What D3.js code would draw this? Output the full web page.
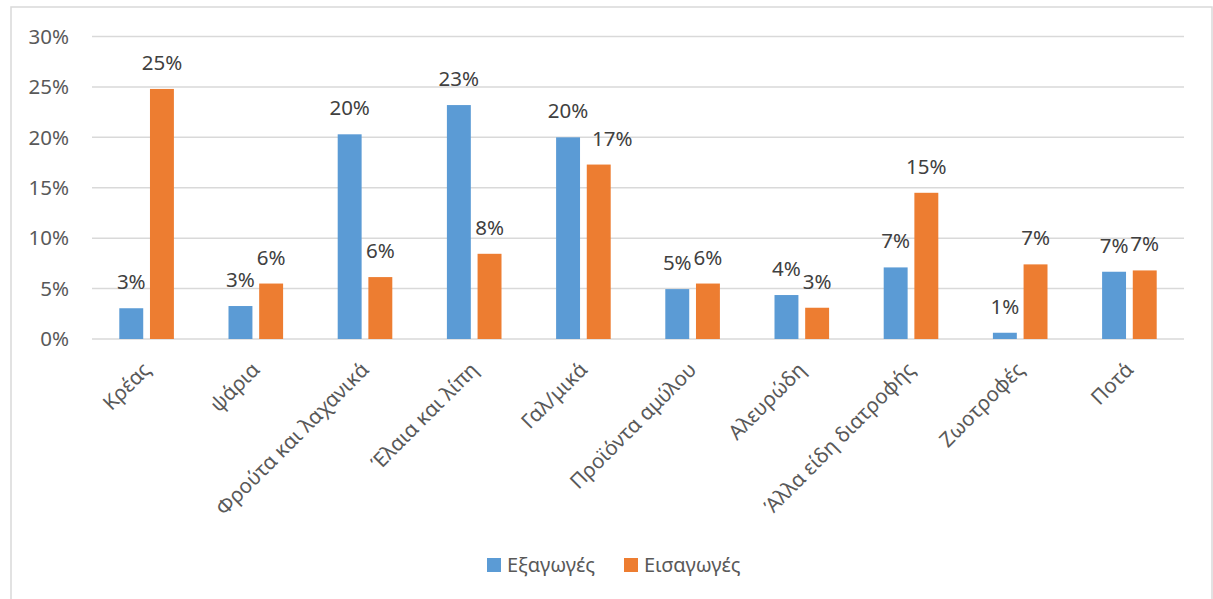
<!DOCTYPE html>
<html>
<head>
<meta charset="utf-8">
<script src="https://cdn.jsdelivr.net/npm/d3@7"></script>
<style>
  body { margin: 0; background: #fff; }
  text { font-family: "Noto Sans", "Open Sans", sans-serif; }
</style>
</head>
<body>
<svg id="chart" width="1213" height="599"></svg>
<script>
// data (share of total, %)
var categories = ["Κρέας", "ψάρια", "Φρούτα και λαχανικά", "Έλαια και λίπη", "Γαλ/μικά",
    "Προϊόντα αμύλου", "Αλευρώδη", "Άλλα είδη διατροφής", "Ζωοτροφές", "Ποτά"];
var series = ["Εξαγωγές", "Εισαγωγές"];
var exportsPct = [3.05, 3.27, 20.3, 23.2, 20.0, 4.95, 4.36, 7.1, 0.62, 6.67];
var importsPct = [24.8, 5.5, 6.14, 8.45, 17.3, 5.5, 3.1, 14.5, 7.4, 6.8];
var yTicks = [0, 5, 10, 15, 20, 25, 30];

var colors = d3.scaleOrdinal().domain(series).range(["#5B9BD5", "#ED7D31"]);

var svg = d3.select("#chart");

// chart border
svg.append("rect")
    .attr("x", 11).attr("y", 7)
    .attr("width", 1201).attr("height", 620)
    .attr("fill", "none")
    .attr("stroke", "#d9d9d9")
    .attr("stroke-width", 1.5);

var xScale = d3.scaleBand().domain(categories).range([92, 1184])
    .paddingInner(0.5).paddingOuter(0.25);
var xInner = d3.scaleBand().domain(series).range([0, xScale.bandwidth()]).paddingInner(0.22);
var yScale = d3.scaleLinear().domain([0, 30]).range([339, 36.5]);

// gridlines
svg.append("g").selectAll("line").data(yTicks).enter().append("line")
    .attr("x1", 92)
    .attr("x2", 1184)
    .attr("y1", d => yScale(d))
    .attr("y2", d => yScale(d))
    .attr("stroke", "#d9d9d9")
    .attr("stroke-width", 1.5);

// y labels
svg.append("g").selectAll("text").data(yTicks).enter().append("text")
    .attr("x", 69)
    .attr("y", d => yScale(d))
    .attr("dy", "0.35em")
    .attr("text-anchor", "end")
    .attr("font-size", "20.5px")
    .attr("fill", "#595959")
    .text(d => d + "%");

// build rows
var rows = categories.map((c, i) => ({ cat: c, values: [exportsPct[i], importsPct[i]] }));

var groups = svg.append("g").selectAll("g").data(rows).enter().append("g")
    .attr("transform", d => "translate(" + xScale(d.cat) + ",0)");

groups.selectAll("rect").data(d => d.values.map((v, j) => ({ s: series[j], v: v }))).enter().append("rect")
    .attr("x", d => xInner(d.s))
    .attr("y", d => yScale(d.v))
    .attr("width", xInner.bandwidth())
    .attr("height", d => yScale(0) - yScale(d.v))
    .attr("fill", d => colors(d.s));

// data labels, nudged right when the orange label would run into the blue bar
groups.each(function(d) {
    var g = d3.select(this);
    d.values.forEach(function(v, j) {
        var cx = xInner(series[j]) + xInner.bandwidth() / 2;
        var ty = yScale(v) - 19;
        var t = g.append("text")
            .attr("x", cx)
            .attr("y", ty)
            .attr("text-anchor", "middle")
            .attr("font-size", "20.5px")
            .attr("fill", "#404040")
            .text(Math.round(v) + "%");
        if (j === 1) {
            var w = t.node().getComputedTextLength();
            var blueRight = xInner(series[0]) + xInner.bandwidth();
            var blueTop = yScale(d.values[0]);
            if (cx - w / 2 < blueRight && ty > blueTop) {
                t.attr("x", blueRight + 12 + w / 2);
            }
        }
    });
});

// category labels
svg.append("g").selectAll("text").data(categories).enter().append("text")
    .attr("transform", d => "translate(" + (xScale(d) + xScale.bandwidth() / 2) + ",366) rotate(-45)")
    .attr("dy", "0.35em")
    .attr("text-anchor", "end")
    .attr("font-size", "20.5px")
    .attr("fill", "#595959")
    .text(d => d);

// legend
var legendX = [487, 624];
var legend = svg.append("g").selectAll("g").data(series).enter().append("g")
    .attr("transform", (d, i) => "translate(" + legendX[i] + ",558)");
legend.append("rect")
    .attr("width", 14).attr("height", 14)
    .attr("fill", d => colors(d));
legend.append("text")
    .attr("x", 20)
    .attr("y", 14)
    .attr("font-size", "20px")
    .attr("fill", "#595959")
    .text(d => d);
</script>
</body>
</html>
